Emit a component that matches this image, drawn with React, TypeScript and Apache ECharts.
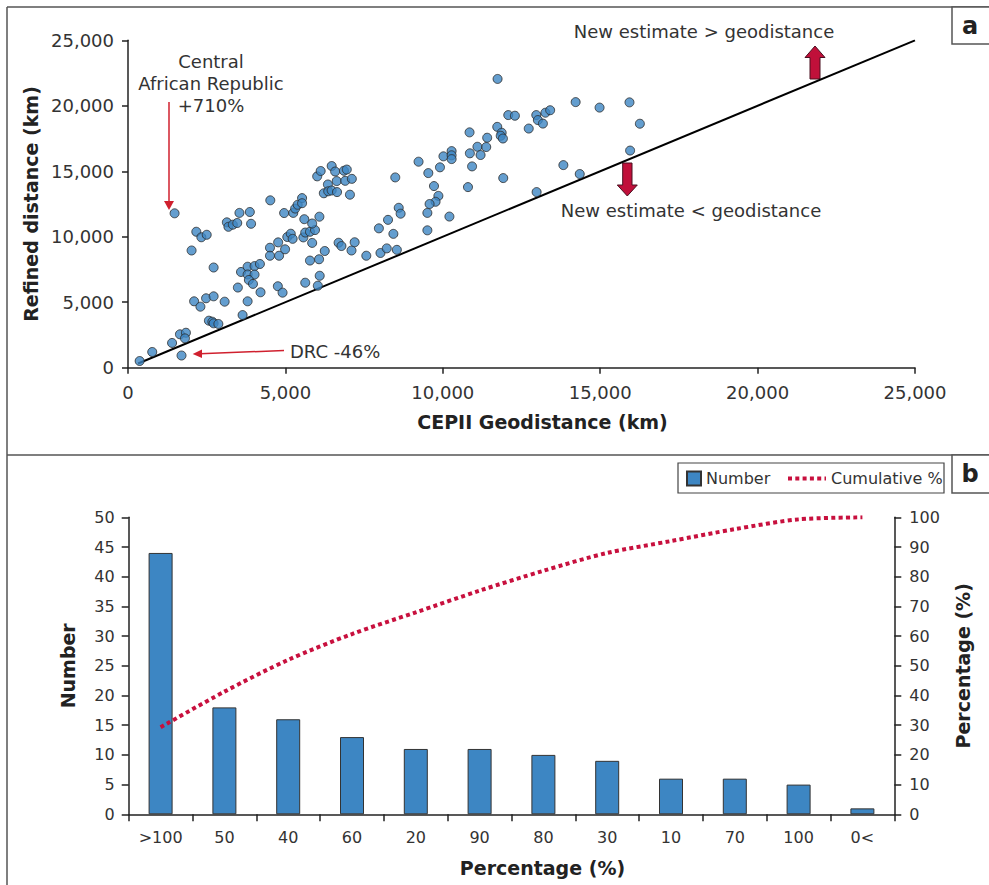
import React, { useEffect, useRef } from "react";
import * as echarts from "echarts";

// ---- Panel a: scatter data (CEPII geodistance km, refined distance km) ----
const geoPoints: number[][] = [
  [370, 510], [770, 1200], [1400, 1890], [1650, 2550], [1840, 2670], [1810, 2240], [1700, 930],
  [2100, 5070], [2300, 4660], [2480, 5300], [2720, 5450], [3070, 5040], [2570, 3590], [2680, 3510],
  [2720, 3390], [2870, 3340], [3640, 4020], [3800, 5070], [3490, 6120], [2720, 7650], [3590, 7310],
  [3800, 7710], [4020, 7760], [4190, 7920], [3800, 7120], [4020, 7110], [3840, 6700], [3970, 6400],
  [4210, 5760], [4760, 6220], [4910, 5730], [2020, 8950], [2170, 10380], [2330, 9960], [2500, 10150],
  [1480, 11790], [3140, 11100], [3190, 10760], [3330, 10920], [3470, 11050], [3540, 11820],
  [3870, 11890], [3910, 10990], [4520, 12780], [4960, 11810], [5250, 11820], [5310, 12150],
  [5390, 12440], [5530, 12950], [5530, 12560], [5600, 11340], [4510, 9160], [4510, 8550],
  [4770, 9570], [4800, 8550], [4990, 9040], [5060, 9980], [5170, 10230], [5230, 9840], [5570, 9950],
  [5630, 10320], [5780, 10380], [5940, 10510], [5850, 11010], [6080, 11530], [5850, 9530],
  [5780, 8180], [6070, 8280], [5630, 6490], [6030, 6260], [6090, 7020], [6250, 8910], [6690, 9540],
  [6780, 9290], [7100, 8950], [7200, 9580], [7570, 8550], [7970, 10640], [8020, 8760], [8220, 9110],
  [8260, 11290], [8430, 10220], [8540, 9000], [9510, 10490], [8600, 12210], [8660, 11760],
  [8490, 14530], [6010, 14610], [6120, 15020], [6470, 15400], [6580, 14980], [6860, 15040],
  [6950, 15130], [6630, 14250], [6900, 14270], [7110, 14420], [6350, 13990], [6220, 13320],
  [6360, 13470], [6470, 13530], [6640, 13410], [7050, 13210], [9230, 15730], [9540, 14860],
  [9720, 13870], [9860, 13120], [9770, 12670], [9580, 12500], [9510, 11820], [10210, 11540],
  [9910, 15300], [10020, 16140], [10280, 16540], [10280, 16220], [10280, 15930], [10850, 17970],
  [10860, 16370], [10930, 15370], [10800, 13790], [11100, 16870], [11200, 16240], [11380, 16850],
  [11410, 17560], [11740, 22050], [11730, 18390], [11870, 17940], [11840, 17710], [11910, 17500],
  [11920, 14480], [12080, 19290], [12290, 19240], [12730, 18260], [12970, 19290], [13020, 18910],
  [13180, 18640], [13260, 19470], [13410, 19660], [14220, 20280], [14980, 19860], [15930, 20260],
  [16260, 18630], [15950, 16580], [13830, 15470], [14350, 14790], [12980, 13410],
];
const equalityLine: number[][] = [[320, 320], [25000, 25000]];

// ---- Panel b: histogram ----
const categories = [">100", "50", "40", "60", "20", "90", "80", "30", "10", "70", "100", "0<"];
const counts = [44, 18, 16, 13, 11, 11, 10, 9, 6, 6, 5, 1];
const cumulativePct = [29.3, 41.3, 52.0, 60.7, 68.0, 75.3, 82.0, 88.0, 92.0, 96.0, 99.3, 100];

const FONT = "DejaVu Sans";
const TXT = "#333";
const AX = "#222";
const BLUE = "#3d86c3";
const RED = "#c8103e";

export default function App() {
  const ref = useRef<HTMLDivElement>(null);
  useEffect(() => {
    if (!ref.current) return;
    const chart = echarts.init(ref.current, undefined, { renderer: "svg" });
    const axisLine = { show: true, lineStyle: { color: AX, width: 1.5 } };
    const axisTick = { show: true, inside: false, length: 6, lineStyle: { color: AX, width: 1.5 } };
    const labelTop = { color: TXT, fontFamily: FONT, fontSize: 18 };
    const labelBot = { color: TXT, fontFamily: FONT, fontSize: 16 };
    const nameStyle = { color: "#222", fontFamily: FONT, fontSize: 19, fontWeight: "bold" as const };
    const dotted = { color: RED, width: 4, type: [4, 3.3], cap: "butt" };
    const option: any = {
      animation: false,
      backgroundColor: "#fff",
      grid: [
        { left: 128, top: 40.3, width: 787, height: 327.4, containLabel: false },
        { left: 128.7, top: 517.3, width: 765.6, height: 297, containLabel: false },
      ],
      xAxis: [
        {
          type: "value", gridIndex: 0, min: 0, max: 25000, interval: 5000,
          axisLine, axisTick, splitLine: { show: false },
          axisLabel: { ...labelTop, margin: 16, formatter: (v: number) => v.toLocaleString("en-US") },
          name: "CEPII Geodistance (km)", nameLocation: "middle", nameGap: 45,
          nameTextStyle: { ...nameStyle, padding: [0, 0, 0, 42] },
        },
        {
          type: "category", gridIndex: 1, data: categories, boundaryGap: true,
          axisLine, axisTick: { ...axisTick, length: 7, alignWithLabel: false },
          axisLabel: { ...labelBot, margin: 15, interval: 0 },
          name: "Percentage (%)", nameLocation: "middle", nameGap: 44,
          nameTextStyle: { ...nameStyle, padding: [0, 0, 0, 62] },
        },
      ],
      yAxis: [
        {
          type: "value", gridIndex: 0, min: 0, max: 25000, interval: 5000,
          axisLine, axisTick, splitLine: { show: false },
          axisLabel: { ...labelTop, margin: 14, formatter: (v: number) => v.toLocaleString("en-US") },
          name: "Refined distance (km)", nameLocation: "middle", nameGap: 87, nameTextStyle: nameStyle,
        },
        {
          type: "value", gridIndex: 1, min: 0, max: 50, interval: 5, position: "left",
          axisLine, axisTick: { ...axisTick, length: 7 }, splitLine: { show: false },
          axisLabel: { ...labelBot, margin: 14 },
          name: "Number", nameLocation: "middle", nameGap: 51, nameTextStyle: nameStyle,
        },
        {
          type: "value", gridIndex: 1, min: 0, max: 100, interval: 10, position: "right",
          axisLine, axisTick: { ...axisTick, length: 7 }, splitLine: { show: false },
          axisLabel: { ...labelBot, margin: 15 },
          name: "Percentage (%)", nameLocation: "middle", nameGap: 59, nameTextStyle: nameStyle,
        },
      ],
      legend: [
        {
          data: [{ name: "Number", icon: "rect" }], left: 686, top: 470.5, itemWidth: 14, itemHeight: 14,
          textStyle: { color: TXT, fontFamily: FONT, fontSize: 16 }, padding: 0, selectedMode: false,
        },
        {
          data: ["Cumulative %"], left: 786, top: 470.5, itemWidth: 38, itemHeight: 14,
          itemStyle: { opacity: 0 }, lineStyle: dotted,
          textStyle: { color: TXT, fontFamily: FONT, fontSize: 16 }, padding: 0, selectedMode: false,
        },
      ],
      series: [
        {
          name: "Estimates", type: "scatter", xAxisIndex: 0, yAxisIndex: 0, data: geoPoints,
          symbol: "circle", symbolSize: 9,
          itemStyle: { color: BLUE, borderColor: "#2a2a2a", borderWidth: 1 }, z: 3,
        },
        {
          name: "Equality", type: "line", xAxisIndex: 0, yAxisIndex: 0, data: equalityLine,
          symbol: "none", lineStyle: { color: "#000", width: 2 }, z: 2,
        },
        {
          name: "Number", type: "bar", xAxisIndex: 1, yAxisIndex: 1, data: counts, barWidth: 24,
          itemStyle: { color: BLUE, borderColor: "#333", borderWidth: 1 },
        },
        {
          name: "Cumulative %", type: "line", xAxisIndex: 1, yAxisIndex: 2, data: cumulativePct,
          symbol: "none", smooth: 0.3,
          lineStyle: dotted,
          itemStyle: { color: RED }, z: 4,
        },
      ],
      graphic: [
        // frames
        { type: "line", shape: { x1: 7, y1: 7, x2: 989, y2: 7 }, style: { stroke: "#555", lineWidth: 1.5 } },
        { type: "line", shape: { x1: 7, y1: 7, x2: 7, y2: 885 }, style: { stroke: "#555", lineWidth: 1.5 } },
        { type: "line", shape: { x1: 7, y1: 455, x2: 989, y2: 455 }, style: { stroke: "#555", lineWidth: 1.5 } },
        { type: "rect", shape: { x: 952, y: 7, width: 40, height: 37 }, style: { fill: "#fff", stroke: "#555", lineWidth: 1.5 } },
        { type: "text", x: 970, y: 26, style: { text: "a", font: `bold 24px ${FONT}`, fill: "#222", align: "center", verticalAlign: "middle" } },
        { type: "rect", shape: { x: 952, y: 455, width: 40, height: 38 }, style: { fill: "#fff", stroke: "#555", lineWidth: 1.5 } },
        { type: "text", x: 970, y: 474, style: { text: "b", font: `bold 24px ${FONT}`, fill: "#222", align: "center", verticalAlign: "middle" } },
        // legend box
        { type: "rect", shape: { x: 678, y: 463, width: 266, height: 30 }, style: { fill: "none", stroke: "#444", lineWidth: 1.2 }, z: -1 },
        // Central African Republic annotation
        { type: "text", x: 211, y: 83, style: { text: "Central\nAfrican Republic\n+710%", font: `18px ${FONT}`, fill: TXT, align: "center", verticalAlign: "middle", lineHeight: 22 } },
        { type: "line", shape: { x1: 169, y1: 102, x2: 169, y2: 203 }, style: { stroke: "#d0202e", lineWidth: 1.5 } },
        { type: "polygon", shape: { points: [[164, 201], [174, 201], [169, 210]] }, style: { fill: "#d0202e" } },
        // DRC annotation
        { type: "text", x: 290, y: 351, style: { text: "DRC -46%", font: `18px ${FONT}`, fill: TXT, align: "left", verticalAlign: "middle" } },
        { type: "line", shape: { x1: 284, y1: 350.5, x2: 200, y2: 353.8 }, style: { stroke: "#d0202e", lineWidth: 1.5 } },
        { type: "polygon", shape: { points: [[202, 349.5], [202, 358], [192.7, 354]] }, style: { fill: "#d0202e" } },
        // New estimate labels
        { type: "text", x: 704, y: 31, style: { text: "New estimate > geodistance", font: `18px ${FONT}`, fill: TXT, align: "center", verticalAlign: "middle" } },
        { type: "text", x: 691, y: 210, style: { text: "New estimate < geodistance", font: `18px ${FONT}`, fill: TXT, align: "center", verticalAlign: "middle" } },
        { type: "polygon", shape: { points: [[815, 46], [825, 57.5], [820, 57.5], [820, 79], [810, 79], [810, 57.5], [805, 57.5]] }, style: { fill: "#c0103a", stroke: "#4a1020", lineWidth: 1 } },
        { type: "polygon", shape: { points: [[622.7, 163], [632, 163], [632, 185], [637.3, 185], [627.3, 196], [617.3, 185], [622.7, 185]] }, style: { fill: "#c0103a", stroke: "#4a1020", lineWidth: 1 } },
      ],
    };
    chart.setOption(option);
    return () => chart.dispose();
  }, []);
  return (
    <div
      ref={ref}
      style={{ position: "absolute", left: 0, top: 0, width: 989, height: 885, background: "#fff" }}
    />
  );
}
